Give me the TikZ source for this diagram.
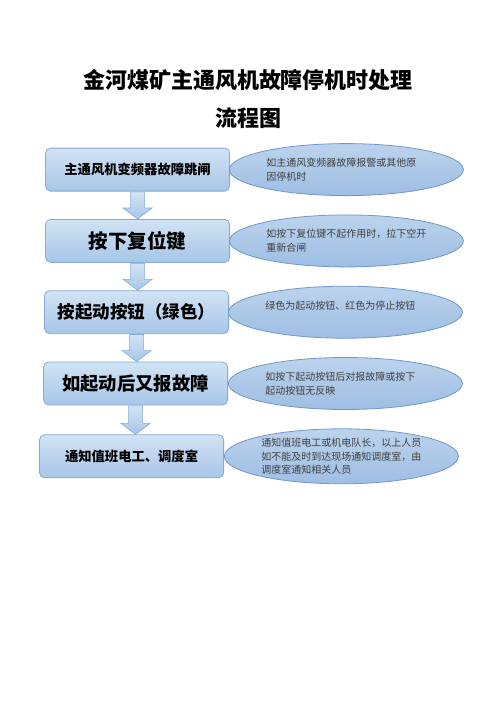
\documentclass[tikz,border=0pt]{standalone}
\usepackage{fontspec}
\setmainfont{Noto Sans CJK SC}
\usepackage{tikz}
\usetikzlibrary{matrix,shapes.geometric,calc}
\definecolor{boxtop}{HTML}{D2E3F4}
\definecolor{boxbot}{HTML}{A7C6E8}
\definecolor{boxline}{HTML}{86ABD6}
\definecolor{notetop}{HTML}{BCD3ED}
\definecolor{notebot}{HTML}{9EBEE3}
\definecolor{noteline}{HTML}{6F97C9}

\begin{document}
\begin{tikzpicture}[x=1pt,y=-1pt,
  box/.style={draw=boxline, line width=0.8pt, rounded corners=5pt, top color=boxtop, bottom color=boxbot,
    minimum width=184pt, minimum height=43pt, inner sep=0pt},
  note/.style={ellipse, draw=noteline, line width=0.8pt, top color=notetop, bottom color=notebot,
    minimum width=234pt, minimum height=52pt, inner sep=0pt, text width=160pt, align=left,
    text=black!75, font=\fontsize{10}{13.5}\selectfont},
  blockarrow/.style={draw=boxline, line width=0.6pt, top color=boxtop, bottom color=boxbot}]
  \useasboundingbox (0,0) rectangle (496,702);
  \node (title) at (248,80) {\fontsize{22}{26}\selectfont\bfseries 金河煤矿主通风机故障停机时处理};
  \node (subtitle) at (248,118) {\fontsize{22}{26}\selectfont\bfseries 流程图};
  \matrix (m) [matrix of nodes, row sep=18.5pt, column sep=-6pt, inner sep=0pt, nodes={anchor=center}, anchor=north west] at (39,143)
  {
|[box, font=\fontsize{13.3}{16}\selectfont\bfseries]| 主通风机变频器故障跳闸 & |[note, xshift=5pt]| {如主通风变频器故障报警或其他原\\因停机时} \\
|[box, font=\fontsize{19.5}{22}\selectfont\bfseries]| 按下复位键 & |[note, xshift=5pt]| {如按下复位键不起作用时，拉下空开\\重新合闸} \\
|[box, xshift=-1pt, font=\fontsize{17.5}{20}\selectfont\bfseries]| 按起动按钮（绿色） & |[note, xshift=4pt]| {绿色为起动按钮、红色为停止按钮\\\mbox{}} \\
|[box, xshift=-2pt, font=\fontsize{18.3}{21}\selectfont\bfseries]| 如起动后又报故障 & |[note, xshift=4pt]| {如按下起动按钮后对报故障或按下\\起动按钮无反映} \\
|[box, xshift=-6pt, font=\fontsize{13.3}{16}\selectfont\bfseries]| 通知值班电工、调度室 & |[note, minimum height=55pt]| {通知值班电工或机电队长，以上人员\\如不能及时到达现场通知调度室，由\\调度室通知相关人员} \\
};
  \foreach \i/\j in {1/2,2/3,3/4,4/5}
    \path[blockarrow] let \p1=(m-\i-1.south), \p2=(m-\j-1.north) in
      (\x1-7pt,\y1-0.4pt) -- (\x1+7pt,\y1-0.4pt) -- (\x1+7pt,\y2+11pt) -- (\x1+14.5pt,\y2+11pt)
      -- (\x1,\y2) -- (\x1-14.5pt,\y2+11pt) -- (\x1-7pt,\y2+11pt) -- cycle;
\end{tikzpicture}
\end{document}
